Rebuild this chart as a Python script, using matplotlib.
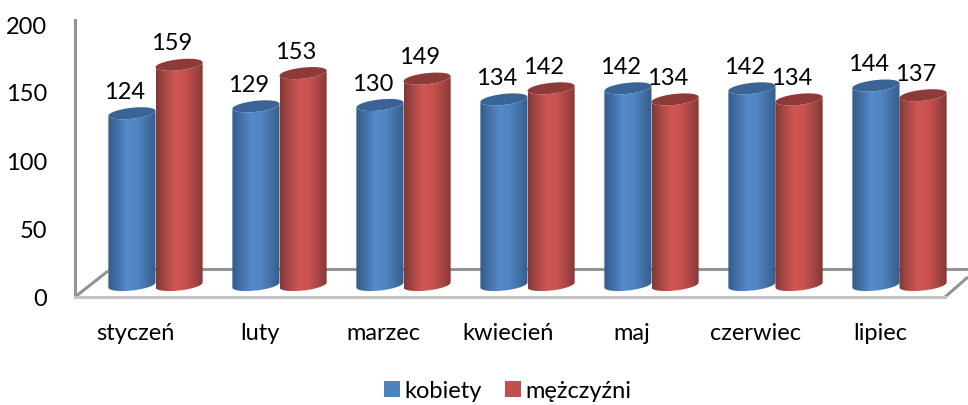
import matplotlib
matplotlib.use('Agg')
import matplotlib.pyplot as plt
from matplotlib.colors import LinearSegmentedColormap
from matplotlib.patches import Polygon, Rectangle
import numpy as np

plt.rcParams['font.family'] = ['Lato', 'DejaVu Sans']

# data
months = ['styczeń', 'luty', 'marzec', 'kwiecień', 'maj', 'czerwiec', 'lipiec']
kobiety = [124, 129, 130, 134, 142, 142, 144]
mezczyzni = [159, 153, 149, 142, 134, 134, 137]
y_ticks = [0, 50, 100, 150, 200]

W, H = 968, 405
fig = plt.figure(figsize=(W / 100, H / 100), dpi=100)

# the wall axes: ticks, month labels and grey frame
wall = fig.add_axes([75 / W, 1 - 297 / H, 870 / W, 277 / H])
wall.set_xlim(-0.645, 6.37)
wall.set_ylim(0, 277 / 1.36)
wall.set_yticks(y_ticks)
wall.set_xticks(np.arange(len(months)) - 0.155)
wall.set_xticklabels(months)
wall.tick_params(length=0, labelsize=17, colors='black')
wall.tick_params(axis='x', pad=19)
wall.tick_params(axis='y', pad=20)
wall.spines['top'].set_visible(False)
wall.spines['right'].set_visible(False)
wall.spines['left'].set_color('#959595')
wall.spines['left'].set_linewidth(2.2)
wall.spines['bottom'].set_color('#c4c4c4')
wall.spines['bottom'].set_linewidth(2.2)

# floor lines
grey = dict(color='#949494', lw=2.2, transform=wall.transAxes, clip_on=False, solid_capstyle='butt')
wall.plot([0, 33 / 870], [0, 26 / 277], **grey)
wall.plot([33 / 870, 893 / 870], [28 / 277, 28 / 277], **grey)
wall.plot([1, 893 / 870], [0, 20 / 277], **grey)

# the bar axes, one unit per month and per person
px = 1.385
bars = fig.add_axes([0, 0, 1, 1], zorder=2)
bars.patch.set_alpha(0)
bars.axis('off')


def cylinder(x, val, colors, cap):
    half = 0.19
    t = np.linspace(np.pi, 2 * np.pi, 40)
    b = 5.5 / px
    tilt = 2.5 / px
    ex = x + half * np.cos(t)
    low = b * np.sin(t) + tilt * np.cos(t)
    outline = np.r_[np.c_[ex, low], np.c_[ex[::-1], val + low[::-1]]]
    body = Polygon(outline, transform=bars.transData, fc='none', ec='none')
    bars.add_patch(body)
    cmap = LinearSegmentedColormap.from_list('c', colors)
    img = bars.imshow(np.linspace(0, 1, 128).reshape(1, -1), cmap=cmap, aspect='auto',
                      extent=[x - half, x + half, -b - tilt, val + b + tilt])
    img.set_clip_path(body)
    t2 = np.linspace(0, 2 * np.pi, 60)
    top = np.c_[x + half * np.cos(t2), val + b * np.sin(t2) + tilt * np.cos(t2)]
    bars.add_patch(Polygon(top, fc=cap, ec='none'))
    bars.annotate(str(val), (x - 0.06, val), xytext=(0, 15), textcoords='offset points',
                  ha='center', va='center', fontsize=17, zorder=10)


blue = ['#335b8a', '#4472a8', '#5589cb', '#5285c4', '#4473a8', '#345c8b']
red = ['#813735', '#ab4a47', '#cf5653', '#c9524f', '#a84845', '#813735']
for i, month in enumerate(months):
    cylinder(i - 0.19, kobiety[i], blue, '#3a6496')
    cylinder(i + 0.19, mezczyzni[i], red, '#8e3a38')
bars.set_xlim(-155.5 / 124, (W - 155.5) / 124)
bars.set_ylim(-(H - 285) / px, 285 / px)

handles = [Rectangle((0, 0), 1, 1, fc='#4f81bd', label='kobiety'),
           Rectangle((0, 0), 1, 1, fc='#c0504d', label='mężczyźni')]
fig.legend(handles=handles, loc='center', bbox_to_anchor=(508 / W, 1 - 391 / H), ncols=2,
           frameon=False, fontsize=17, handlelength=0.65, handleheight=0.65,
           handletextpad=0.2, columnspacing=1.0)

fig.savefig('out.png', dpi=100)
